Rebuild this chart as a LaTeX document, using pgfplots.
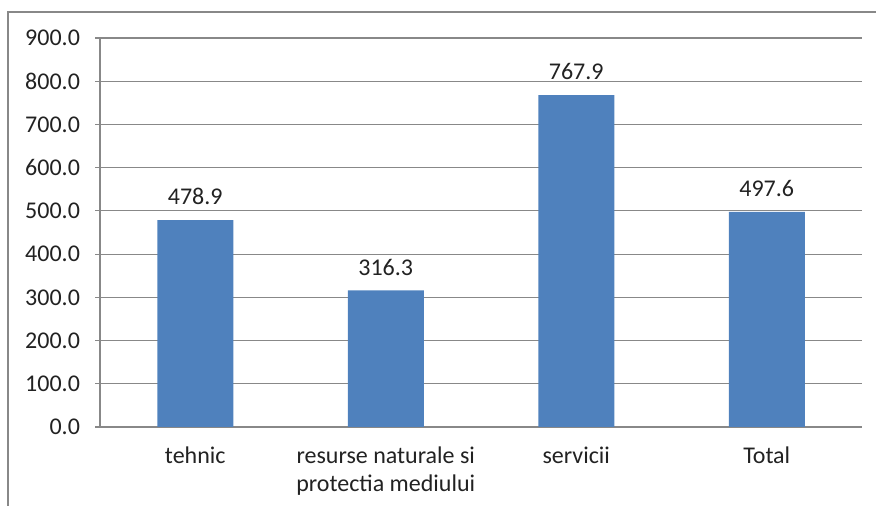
\documentclass[border=0pt]{standalone}
\usepackage{pgfplots}
\pgfplotsset{compat=1.18}
\usepackage{fontspec}
\setmainfont{Carlito}
\definecolor{barblue}{HTML}{4F81BD}
\definecolor{gridgray}{HTML}{888888}
\definecolor{txt}{HTML}{222222}
\begin{document}
\begin{tikzpicture}
\useasboundingbox (0,0) rectangle (438pt,253pt);
\draw[gridgray, line width=0.6pt] (4pt,0) -- (4pt,247pt) -- (438pt,247pt);
\begin{axis}[
  at={(50pt,39.5pt)}, anchor=south west,
  scale only axis, width=381pt, height=194.5pt,
  xmin=-0.5, xmax=3.5, ymin=0, ymax=900,
  ytick={0,100,...,900},
  xtick={0,1,2,3},
  xticklabels={tehnic,{resurse naturale si\\protectia mediului},servicii,Total},
  xticklabel style={align=center, font=\fontsize{12}{14}\selectfont, text=txt, yshift=-4pt},
  yticklabel style={font=\fontsize{12}{14}\selectfont, text=txt, xshift=-4pt},
  /pgf/number format/.cd, fixed, fixed zerofill, precision=1, assume math mode=true,
  /pgfplots/.cd,
  major x tick style={draw=none},
  extra x ticks={-0.5,0.5,1.5,2.5,3.5},
  extra x tick labels={},
  extra x tick style={major tick length=3pt, tick style={gridgray, line width=0.6pt, draw=gridgray}, tick align=outside},
  ymajorgrids, grid style={gridgray, line width=0.6pt},
  major tick length=2.5pt,
  tick align=outside,
  ytick style={gridgray, line width=0.6pt},
  axis x line*=bottom, axis y line*=left,
  axis line style={gridgray, line width=0.6pt, -},
  ybar, bar width=38pt,
  nodes near coords,
  nodes near coords style={font=\fontsize{12}{14}\selectfont, text=txt, yshift=4pt, /pgf/number format/.cd, fixed, fixed zerofill, precision=1, assume math mode=true},
]
\addplot[fill=barblue, draw=none] coordinates {(0,478.9) (1,316.3) (2,767.9) (3,497.6)};
\end{axis}
\end{tikzpicture}
\end{document}
